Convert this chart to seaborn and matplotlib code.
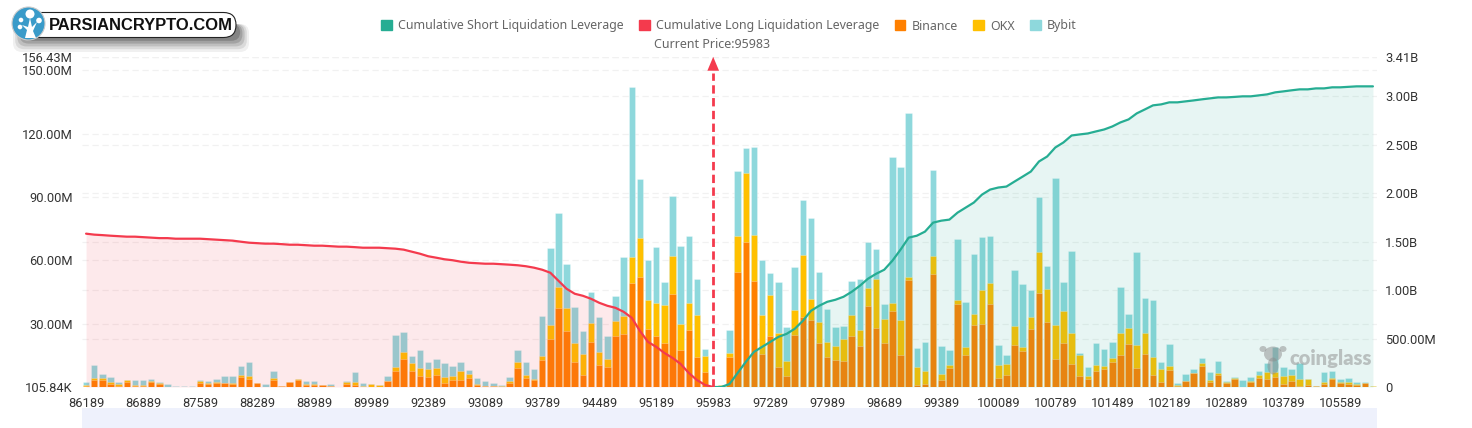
import matplotlib
matplotlib.use("Agg")
import matplotlib.pyplot as plt
import numpy as np
import seaborn as sns
from matplotlib.patches import Circle, Ellipse, FancyBboxPatch, Patch, Polygon

# price labels, one every 7th bin
price_labels = ["86189", "86889", "87589", "88289", "88989", "89989", "92389", "93089",
                "93789", "94489", "95189", "95983", "97289", "97989", "98689", "99389",
                "100089", "100789", "101489", "102189", "102889", "103789", "105589"]
current_price = "95983"

# liquidation volume per bin, millions
binance = [.5, 3.5, 3.5, 1.6, .5, 2.4, .5, .6, 2.4, 1.6, 0, 0, 0, 0, 2.2, 1.7, 2.2, 1.9, 1.7, 4.9,
           3.9, 1.9, .2, 3.5, .6, 2.5, 3.5, 1.1, 1.1, .9, .5, .2, 1.6, 1.1, .2, .2, .2, 2.8, 7.6, 13.2,
           7.7, 5.5, 4.7, 5.7, 2.1, 3.6, 3.5, 4.4, 1.1, .5, .5, .3, 1.9, 9.3, 4.4, 3.5, 12.9, 22.7, 37.4, 26.5,
           11.8, 5.7, 21.3, 10.4, 9.5, 24.1, 25.1, 49.2, 52.0, 27.4, 24.1, 20.8, 44.0, 17.5, 27.0, 14.2, 7.1, .2, .3, 14.2,
           54.4, 68.6, 50.1, 15.6, 24.1, 9.5, 5.2, 24.6, 33.1, 31.7, 20.8, 14.2, 12.8, 12.3, 24.1, 19.4, 38.3, 27.9, 20.8, 35.9,
           15.1, 50.6, .9, 1.4, 53.4, 3.3, 9.0, 39.3, 15.1, 29.3, 29.8, 39.3, 4.3, 5.7, 19.9, 17.0, 27.4, 44.5, 30.7, 13.2,
           20.8, 10.9, 5.2, 3.8, 7.6, 8.5, 11.8, 15.1, 20.3, 9.0, 15.6, 5.7, 2.4, 8.0, .5, 2.8, 6.6, 9.9, 2.4, 5.7,
           1.9, 3.8, 0, 2.4, 4.3, 3.8, 4.7, 1.4, 2.8, .5, .9, .5, 1.4, 3.8, 1.9, 1.4, .9, 1.9, 0]
okx = [.5, .9, .9, .8, .9, .9, .6, .6, .5, .3, .2, .2, .2, 0, .8, .3, .3, .3, .5, .9,
       1.3, 0, 0, .9, .2, 0, .2, .6, .3, 0, 0, 0, .9, 1.4, .5, 1.3, .8, 0, 2.2, 3.5,
       3.6, 3.8, 3.8, 3.6, 2.7, 1.9, 4.4, 1.7, .5, .3, .2, .2, .9, 2.7, 1.4, .6, 1.9, 6.6, 9.9, 10.9,
       9.0, 9.9, 9.0, 6.1, 3.8, 7.1, 8.5, 12.3, 18.4, 13.7, 15.6, 18.0, 18.0, 12.3, 12.8, 19.9, 7.6, .2, .6, 1.9,
       17.0, 32.6, 21.8, 18.4, 19.4, 16.1, 7.1, 11.8, 29.3, 9.9, 9.9, 7.1, 6.6, 10.4, 9.9, 7.6, 8.5, 23.2, 11.4, 3.8,
       16.6, 1.4, 8.5, 6.1, 8.5, 2.8, 1.4, 1.9, 3.8, 5.2, 16.1, 9.9, 6.1, 5.2, 9.0, 1.9, 5.7, 19.4, 15.6, 16.1,
       15.1, 14.7, 9.9, 1.4, 2.8, 1.4, 1.9, 10.4, 7.6, 10.9, 9.9, 8.5, 6.1, 1.9, .5, 0, .2, 1.4, .9, .9,
       .5, .5, 0, .5, 1.4, 3.3, 2.4, 3.8, 2.8, 3.3, 2.8, 0, .9, .5, .5, .9, .5, .2, .5]
bybit = [1.6, 6.0, 1.7, 2.2, 1.3, .3, 2.1, 2.1, .8, .5, 1.3, .3, .6, .5, .6, .8, 1.6, 3.2, 3.3, 4.3,
         6.8, 0, 1.4, 3.5, 0, 0, 0, 1.1, 1.7, 0, .8, .1, .3, 4.6, 1.3, 0, 0, 2.7, 15.1, 9.3,
         3.3, 8.2, 3.2, 3.9, 6.6, 4.4, 3.8, 2.1, 2.8, 2.1, 1.1, .5, 1.9, 5.5, 6.0, 4.3, 19.1, 36.4, 35.0, 20.8,
         17.0, 10.9, 14.7, 16.6, 10.9, 11.8, 27.9, 80.4, 27.9, 18.9, 26.5, 10.9, 28.4, 36.9, 31.7, 17.0, 3.3, 0, 0, 10.9,
         30.7, 11.8, 41.6, 26.0, 10.4, 24.1, 16.1, 20.3, 26.0, 38.3, 23.7, 15.6, 9.0, 6.1, 16.1, 24.1, 21.8, 14.2, 7.1, 69.1,
         72.4, 77.6, 9.0, 13.7, 40.7, 13.2, 7.1, 28.9, 21.3, 28.4, 25.1, 22.2, 9.5, 4.3, 26.5, 29.8, 12.8, 26.0, 10.9, 69.5,
         13.7, 38.8, .9, 4.3, 10.4, 8.0, 7.6, 21.8, 6.6, 44.0, 16.6, 27.0, 3.3, 10.4, .9, 3.3, 1.9, 2.4, 3.8, 5.7,
         .5, .5, 3.3, 1.9, 1.9, 4.3, 11.8, 4.3, 2.8, 7.6, .2, .2, 4.7, 3.3, 1.4, 1.9, .9, .5, .1]

# cumulative leverage, billions
cum_long = [1.582, 1.572, 1.567, 1.561, 1.556, 1.551, 1.551, 1.546, 1.541, 1.536, 1.536, 1.530, 1.530,
            1.530, 1.530, 1.525, 1.520, 1.515, 1.510, 1.499, 1.489, 1.484, 1.479, 1.479, 1.474, 1.468,
            1.468, 1.463, 1.458, 1.458, 1.453, 1.448, 1.448, 1.443, 1.437, 1.437, 1.437, 1.432, 1.427,
            1.417, 1.396, 1.375, 1.349, 1.334, 1.318, 1.308, 1.293, 1.282, 1.277, 1.272, 1.272, 1.267,
            1.262, 1.256, 1.246, 1.231, 1.210, 1.179, 1.096, 1.013, .962, .941, .910, .869, .838, .817,
            .776, .714, .579, .465, .414, .352, .300, .238, .145, .072, .021, 0]
cum_short = [0, 0, .031, .145, .259, .362, .414, .465, .517, .548, .600, .682, .786, .838, .879, .900,
             .931, .982, 1.044, 1.117, 1.168, 1.210, 1.303, 1.417, 1.541, 1.561, 1.603, 1.696, 1.716,
             1.727, 1.799, 1.851, 1.903, 1.985, 2.037, 2.058, 2.068, 2.120, 2.171, 2.223, 2.327, 2.378,
             2.471, 2.523, 2.595, 2.606, 2.616, 2.637, 2.657, 2.688, 2.730, 2.761, 2.823, 2.864, 2.906,
             2.916, 2.937, 2.937, 2.947, 2.957, 2.968, 2.978, 2.988, 2.988, 2.993, 2.999, 2.999, 3.009,
             3.019, 3.040, 3.050, 3.061, 3.071, 3.071, 3.081, 3.081, 3.092, 3.092, 3.097, 3.102, 3.102, 3.102]

left_ticks = [0.10584, 30, 60, 90, 120, 150, 156.43]
left_labels = ["105.84K", "30.00M", "60.00M", "90.00M", "120.00M", "150.00M", "156.43M"]
right_ticks = [0, 0.5, 1, 1.5, 2, 2.5, 3, 3.41]
right_labels = ["0", "500.00M", "1.00B", "1.50B", "2.00B", "2.50B", "3.00B", "3.41B"]

GREEN = "#26AD93"
RED = "#F43A4D"
ORANGE = "#FF8000"
YELLOW = "#FFC000"
CYAN = "#8ED8DC"
GRID = "#F1F1F1"

sns.set_style("white")
plt.rcParams["font.family"] = ["Roboto", "DejaVu Sans"]

W, H = 1472, 428
fig = plt.figure(figsize=(W / 100, H / 100), dpi=100)
ax = fig.add_axes([82 / W, (H - 387) / H, 1295 / W, 330.5 / H])

binance = np.array(binance)
okx = np.array(okx)
bybit = np.array(bybit)
bins = np.arange(len(binance))

# stacked bars, tallest layer first
edge = dict(edgecolor=(1, 1, 1, 0.4), linewidth=0.5, width=0.8, saturation=1, ax=ax)
sns.barplot(x=bins, y=binance + okx + bybit, color=CYAN, **edge)
sns.barplot(x=bins, y=binance + okx, color=YELLOW, **edge)
sns.barplot(x=bins, y=binance, color=ORANGE, **edge)

ax.set_xlim(-0.5, len(bins) - 0.5)
ax.set_ylim(left_ticks[0], left_ticks[-1])
ax.set_yticks(left_ticks, left_labels)
ax.set_xticks(np.arange(len(price_labels)) * 7, price_labels)
ax.set_xlabel("")
ax.set_ylabel("")
ax.tick_params(axis="both", length=0, labelsize=9.3, labelcolor="#333333")
ax.tick_params(axis="y", pad=6.5)
ax.tick_params(axis="x", pad=7)
sns.despine(ax=ax, left=True, right=True, top=True, bottom=True)

# dashed grid for both y axes, kept under the bars
for t in left_ticks[1:]:
    ax.axhline(t, color=GRID, lw=0.9, ls=(0, (5, 3)), zorder=0.5)
for t in right_ticks[1:]:
    ax.axhline(t / right_ticks[-1] * left_ticks[-1], color=GRID, lw=0.9, ls=(0, (5, 3)), zorder=0.5)

ax2 = ax.twinx()
ax2.set_ylim(right_ticks[0], right_ticks[-1])
ax2.set_yticks(right_ticks, right_labels)
ax2.tick_params(axis="y", length=0, labelsize=9.3, labelcolor="#333333", pad=6)
sns.despine(ax=ax2, left=True, right=True, top=True, bottom=True)
ax2.grid(False)

cur = price_labels.index(current_price) * 7
long_x = np.arange(len(cum_long))
short_x = np.arange(len(cum_short)) + cur

ax2.fill_between(long_x, cum_long, color=RED, alpha=0.11, lw=0, zorder=1)
ax2.fill_between(short_x, cum_short, color=GREEN, alpha=0.11, lw=0, zorder=1)
sns.lineplot(x=long_x, y=cum_long, color=RED, lw=1.6, ax=ax2, legend=False, zorder=3)
sns.lineplot(x=short_x, y=cum_short, color=GREEN, lw=1.6, ax=ax2, legend=False, zorder=3)
ax2.set_ylabel("")

# current price marker
trans = ax2.get_xaxis_transform()
ax2.plot([cur, cur], [0, 0.95], color=RED, lw=2, ls=(0, (3, 1.6)), transform=trans, zorder=4)
ax2.annotate("", xy=(cur, 0.999), xytext=(cur, 0.94), xycoords=trans, textcoords=trans,
             arrowprops=dict(arrowstyle="-|>,head_length=1.0,head_width=0.42", color=RED, lw=0,
                             shrinkA=0, shrinkB=0), zorder=5)

handles = [Patch(color=GREEN), Patch(color=RED), Patch(color=ORANGE), Patch(color=YELLOW), Patch(color=CYAN)]
names = ["Cumulative Short Liquidation Leverage", "Cumulative Long Liquidation Leverage",
         "Binance", "OKX", "Bybit"]
fig.legend(handles, names, ncol=5, frameon=False, loc="center", bbox_to_anchor=(729 / W, (H - 26) / H),
           prop={"family": "Noto Sans", "size": 8.95}, labelcolor="#666666", handlelength=0.85,
           handleheight=0.85, handletextpad=0.5, columnspacing=1.25, borderpad=0, borderaxespad=0)
fig.text(712.5 / W, (H - 45) / H, "Current Price:" + current_price, ha="center", va="center",
         family="Noto Sans", fontsize=9, color="#666666")

# overlay in pixel coordinates for the scrollbar, logo and watermark
over = fig.add_axes([0, 0, 1, 1], zorder=10)
over.set_xlim(0, W)
over.set_ylim(H, 0)
over.axis("off")
over.patch.set_alpha(0)

over.fill_between([82, 1377], 408, 428, color="#EEF1FC", lw=0)

# logo with soft shadow below the pill
for grow, a in zip([20, 16, 12, 8, 4], [0.06, 0.09, 0.12, 0.15, 0.18]):
    over.add_patch(FancyBboxPatch((24 - grow * 0.55, 24), 214 + grow * 1.1, 14 + grow * 0.7,
                                  boxstyle="round,pad=0,rounding_size=9", fc="black", ec="none", alpha=a))
over.add_patch(FancyBboxPatch((28, 12.5), 208, 25, boxstyle="round,pad=0,rounding_size=12.5",
                              fc="white", ec="#222222", lw=0.8))
over.add_patch(Circle((28.5, 23.5), 16.5, fc="#3A9BC9", ec="#CCCCCC", lw=0.8))
over.add_patch(Polygon([[25, 38], [27, 30], [22, 25], [28, 27], [30, 18], [32, 27], [37, 22], [33, 31], [36, 38]],
                       fc="white", ec="none"))
for cx, cy, r in [(30, 14, 4.5), (39, 20.5, 2.8), (21, 20, 2.3), (20, 27, 2.3)]:
    over.add_patch(Circle((cx, cy), r, fc="white", ec="none"))
over.text(140.5, 25.5, "PARSIANCRYPTO.COM", ha="center", va="center", family="Liberation Sans",
          weight="bold", fontsize=11.9, color="#111111")

# watermark
for (cx, cy, w, h) in [(1273, 354, 18, 15), (1273, 366, 11, 17), (1263, 349, 7, 6), (1283, 349, 7, 6)]:
    over.add_patch(Ellipse((cx, cy), w, h, fc="#8C8C8C", ec="none", alpha=0.5))
over.text(1330.5, 358, "coinglass", ha="center", va="center", family="Lato", weight="heavy",
          fontsize=14.5, color="#8C8C8C", alpha=0.5)

fig.savefig("out.png", dpi=100)
